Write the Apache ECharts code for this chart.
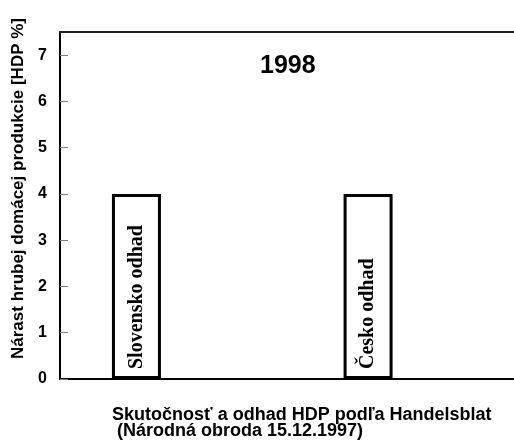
<!DOCTYPE html>
<html>
<head>
<meta charset="utf-8">
<script src="https://cdn.jsdelivr.net/npm/echarts@6/dist/echarts.min.js"></script>
<style>
  html, body { margin: 0; padding: 0; background: #fff; }
  #main { width: 514px; height: 445px; }
</style>
</head>
<body>
<div id="main"></div>
<script>
// data
var categories = ['Slovensko odhad', 'Česko odhad'];
var values = [4, 4];
var yTicks = [0, 1, 2, 3, 4, 5, 6, 7];
var chartTitle = '1998';
var yName = 'Nárast hrubej domácej produkcie [HDP %]';
var footNote = 'Skutočnosť a odhad HDP podľa Handelsblat\n (Národná obroda 15.12.1997)';

var myChart = echarts.init(document.getElementById('main'));

var seriesData = categories.map(function (c, i) {
    return { value: [i, values[i]], name: c };
});

myChart.setOption({
    animation: false,
    backgroundColor: '#fff',
    title: [{
        text: chartTitle,
        left: 255, top: 49,
        textStyle: { fontFamily: 'Liberation Sans', fontWeight: 'bold', fontSize: 25, color: '#000' }
    }, {
        text: footNote,
        left: 107, top: 402,
        textStyle: { fontFamily: 'Liberation Sans', fontWeight: 'bold', fontSize: 18, lineHeight: 16, color: '#000' }
    }],
    grid: { left: 60, right: 0, top: 32, bottom: 66 },
    xAxis: [{
        type: 'value', min: -0.33, max: 1.63,
        axisLine: { show: true, onZero: false, lineStyle: { color: '#000', width: 2 } },
        axisTick: { show: false }, axisLabel: { show: false }, splitLine: { show: false }
    }, {
        type: 'value', position: 'top', min: -0.33, max: 1.63,
        axisLine: { show: true, onZero: false, lineStyle: { color: '#222', width: 2 } },
        axisTick: { show: false }, axisLabel: { show: false }, splitLine: { show: false }
    }],
    yAxis: {
        type: 'value', min: 0, max: 7.5, interval: 1,
        name: yName, nameLocation: 'middle', nameGap: 31,
        nameTextStyle: { fontFamily: 'Liberation Sans', fontWeight: 'bold', fontSize: 17, color: '#000', padding: [0, 0, 0, 34] },
        axisLine: { show: true, onZero: false, lineStyle: { color: '#000', width: 2 } },
        axisTick: { show: true, inside: true, length: 8, lineStyle: { color: '#808080' }, customValues: yTicks },
        axisLabel: { customValues: yTicks, margin: 13, fontFamily: 'Liberation Sans', fontWeight: 'bold', fontSize: 16, color: '#000' },
        splitLine: { show: false }
    },
    series: [{
        type: 'bar',
        data: seriesData,
        barWidth: 49,
        itemStyle: { color: '#fff', borderColor: '#000', borderWidth: 3 },
        label: {
            show: true,
            position: 'insideBottom',
            rotate: 90,
            align: 'left',
            verticalAlign: 'middle',
            distance: 10,
            formatter: function (p) { return p.name; },
            fontFamily: 'Liberation Serif',
            fontWeight: 'bold',
            fontSize: 20,
            color: '#000'
        }
    }]
});
</script>
</body>
</html>
